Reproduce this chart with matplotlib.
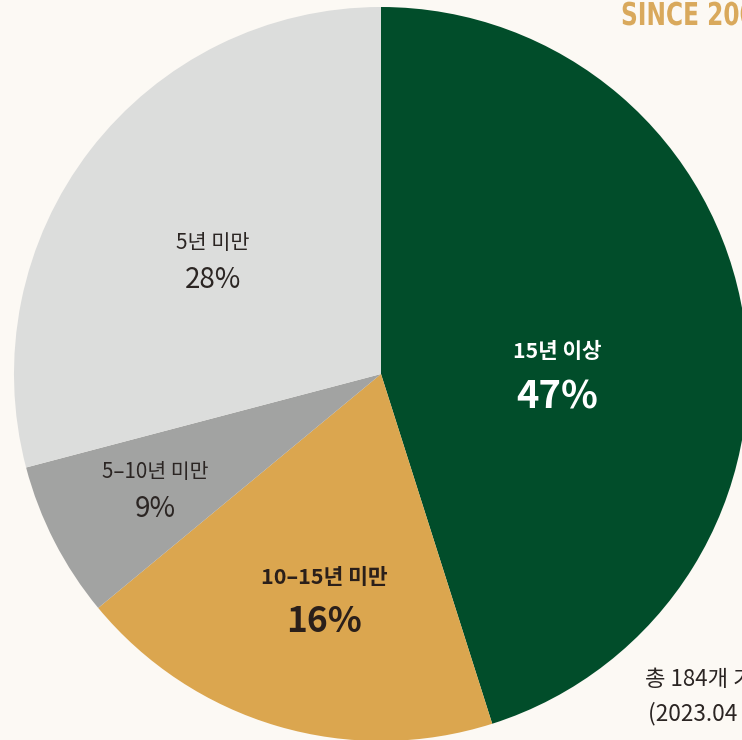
import matplotlib.pyplot as plt
from matplotlib.textpath import TextPath
from matplotlib.patches import PathPatch
from matplotlib.font_manager import FontProperties
from matplotlib.transforms import Affine2D

plt.rcParams['font.family'] = ['Noto Sans CJK KR', 'DejaVu Sans']

categories = ['15년 이상', '10–15년 미만', '5–10년 미만', '5년 미만']
pct_labels = ['47%', '16%', '9%', '28%']
wedge_share = [45.1, 18.9, 6.9, 29.1]
colors = ['#014d2a', '#dba64f', '#a2a3a2', '#dcdddc']

bg = '#fcf9f4'
fig = plt.figure(figsize=[7.42, 7.40], dpi=100, facecolor=bg)
ax = fig.add_axes([0, 0, 1, 1])
ax.set_facecolor(bg)

cx, cy, r = 381, 374, 367
# y axis gets inverted below, so start at -90 and go counterclockwise
# in data space -> top of the picture, clockwise on screen
ax.pie(wedge_share, colors=colors, startangle=-90, counterclock=True,
       center=(cx, cy), radius=r, frame=True,
       wedgeprops=dict(linewidth=0, antialiased=True))
ax.set_xlim(0, 742)
ax.set_ylim(740, 0)
ax.set_aspect('equal')
ax.axis('off')

# labels: (x, y of title, y of pct, title size, pct size, weight, color)
lab = [
    (557, 351, 397, 15.3, 27.5, 'bold', 'white'),
    (324, 577, 622, 15.5, 25.5, 'bold', '#2a1f1a'),
    (155, 472, 509, 14.8, 20, 'normal', '#2b2523'),
    (213, 243, 280, 15, 20, 'normal', '#2b2523'),
]
for (x, y1, y2, s1, s2, w, c), cat, p in zip(lab, categories, pct_labels):
    ax.text(x, y1, cat, ha='center', va='center', fontsize=s1,
            fontweight=w, color=c)
    ax.text(x, y2, p, ha='center', va='center', fontsize=s2,
            fontweight=w, color=c)

# condensed "SINCE ..." badge text, squeezed horizontally
tp = TextPath((0, 0), 'SINCE 2000', size=31.5,
              prop=FontProperties(family='DejaVu Sans', weight='bold'))
tr = Affine2D().scale(0.74, -1).translate(621, 25) + ax.transData
ax.add_patch(PathPatch(tp, transform=tr, facecolor='#d9a95c',
                       edgecolor='none'))

ax.text(645, 679, '총 184개 기업', ha='left', va='center', fontsize=16,
        color='#2b2523')
ax.text(648, 714, '(2023.04 기준)', ha='left', va='center', fontsize=16.3,
        color='#2b2523')

plt.savefig('out.png', dpi=100, facecolor=bg)
